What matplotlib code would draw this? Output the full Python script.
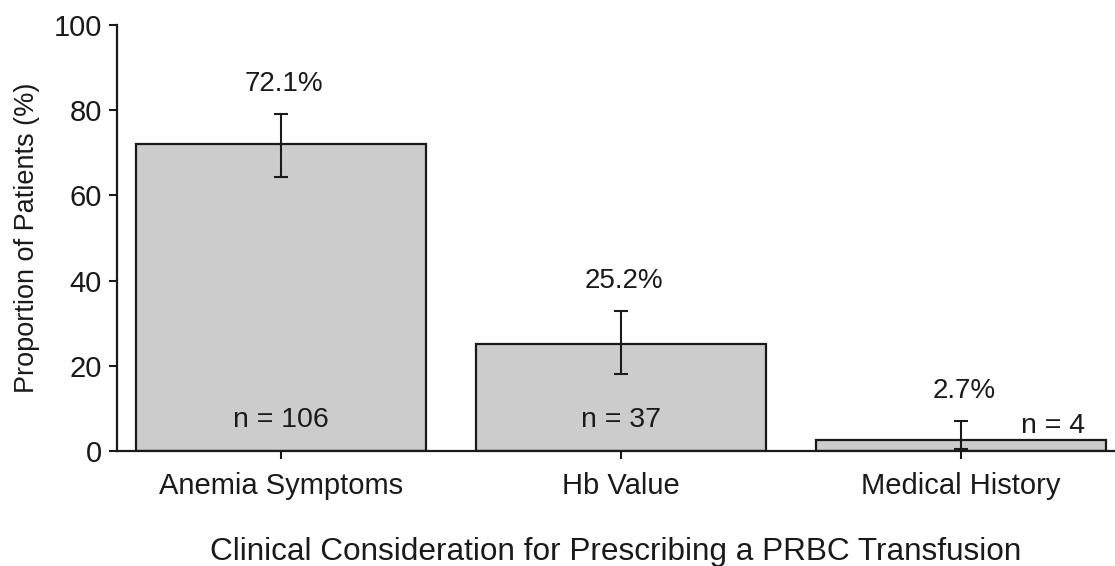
import matplotlib
matplotlib.use("Agg")
import matplotlib.pyplot as plt
import numpy as np

categories = ["Anemia Symptoms", "Hb Value", "Medical History"]
percent = [72.1, 25.2, 2.7]
ci_low = [64.2, 18.2, 0.6]
ci_high = [79.2, 32.8, 7.0]
n_counts = [106, 37, 4]
yticks = [0, 20, 40, 60, 80, 100]

plt.rcParams['font.family'] = ['Liberation Sans', 'DejaVu Sans']
ink = '#1a1a1a'

fig = plt.figure(figsize=(11.15, 5.66), dpi=100)
ax = fig.add_axes([0.105, 0.203, 0.895, 0.753])

x = np.arange(len(categories))
vals = np.array(percent)
lo = vals - np.array(ci_low)
hi = np.array(ci_high) - vals

ax.bar(x, vals, width=0.853, color='#cccccc', edgecolor=ink, linewidth=1.6, zorder=2)
ax.errorbar(x, vals, yerr=[lo, hi], fmt='none', ecolor=ink, elinewidth=1.5,
            capsize=4.7, capthick=1.5, zorder=3)

for i in range(len(categories)):
    ax.text(x[i] + 0.01, ci_high[i] + 7.0, f"{percent[i]}%", ha='center', va='center',
            fontsize=20, color=ink)

ax.text(x[0], 7.4, f"n = {n_counts[0]}", ha='center', va='center', fontsize=20.5, color=ink)
ax.text(x[1], 7.4, f"n = {n_counts[1]}", ha='center', va='center', fontsize=20.5, color=ink)
ax.text(x[2] + 0.27, 6.0, f"n = {n_counts[2]}", ha='center', va='center', fontsize=20.5, color=ink)

ax.set_xlim(-0.482, 2.453)
ax.set_ylim(0, 100)
ax.set_yticks(yticks)
ax.set_xticks(x)
ax.set_xticklabels(categories, fontsize=21, color=ink)
ax.tick_params(axis='y', labelsize=21, colors=ink, length=6, width=1.5, pad=5)
ax.tick_params(axis='x', colors=ink, length=6, width=1.5, pad=9)

for s in ['top', 'right']:
    ax.spines[s].set_visible(False)
for s in ['left', 'bottom']:
    ax.spines[s].set_linewidth(1.6)
    ax.spines[s].set_color(ink)

ax.set_ylabel("Proportion of Patients (%)", fontsize=19.5, color=ink, labelpad=10)
ax.set_xlabel("Clinical Consideration for Prescribing a PRBC Transfusion", fontsize=22.7,
              color=ink, labelpad=27)

fig.savefig("out.png", dpi=100)
